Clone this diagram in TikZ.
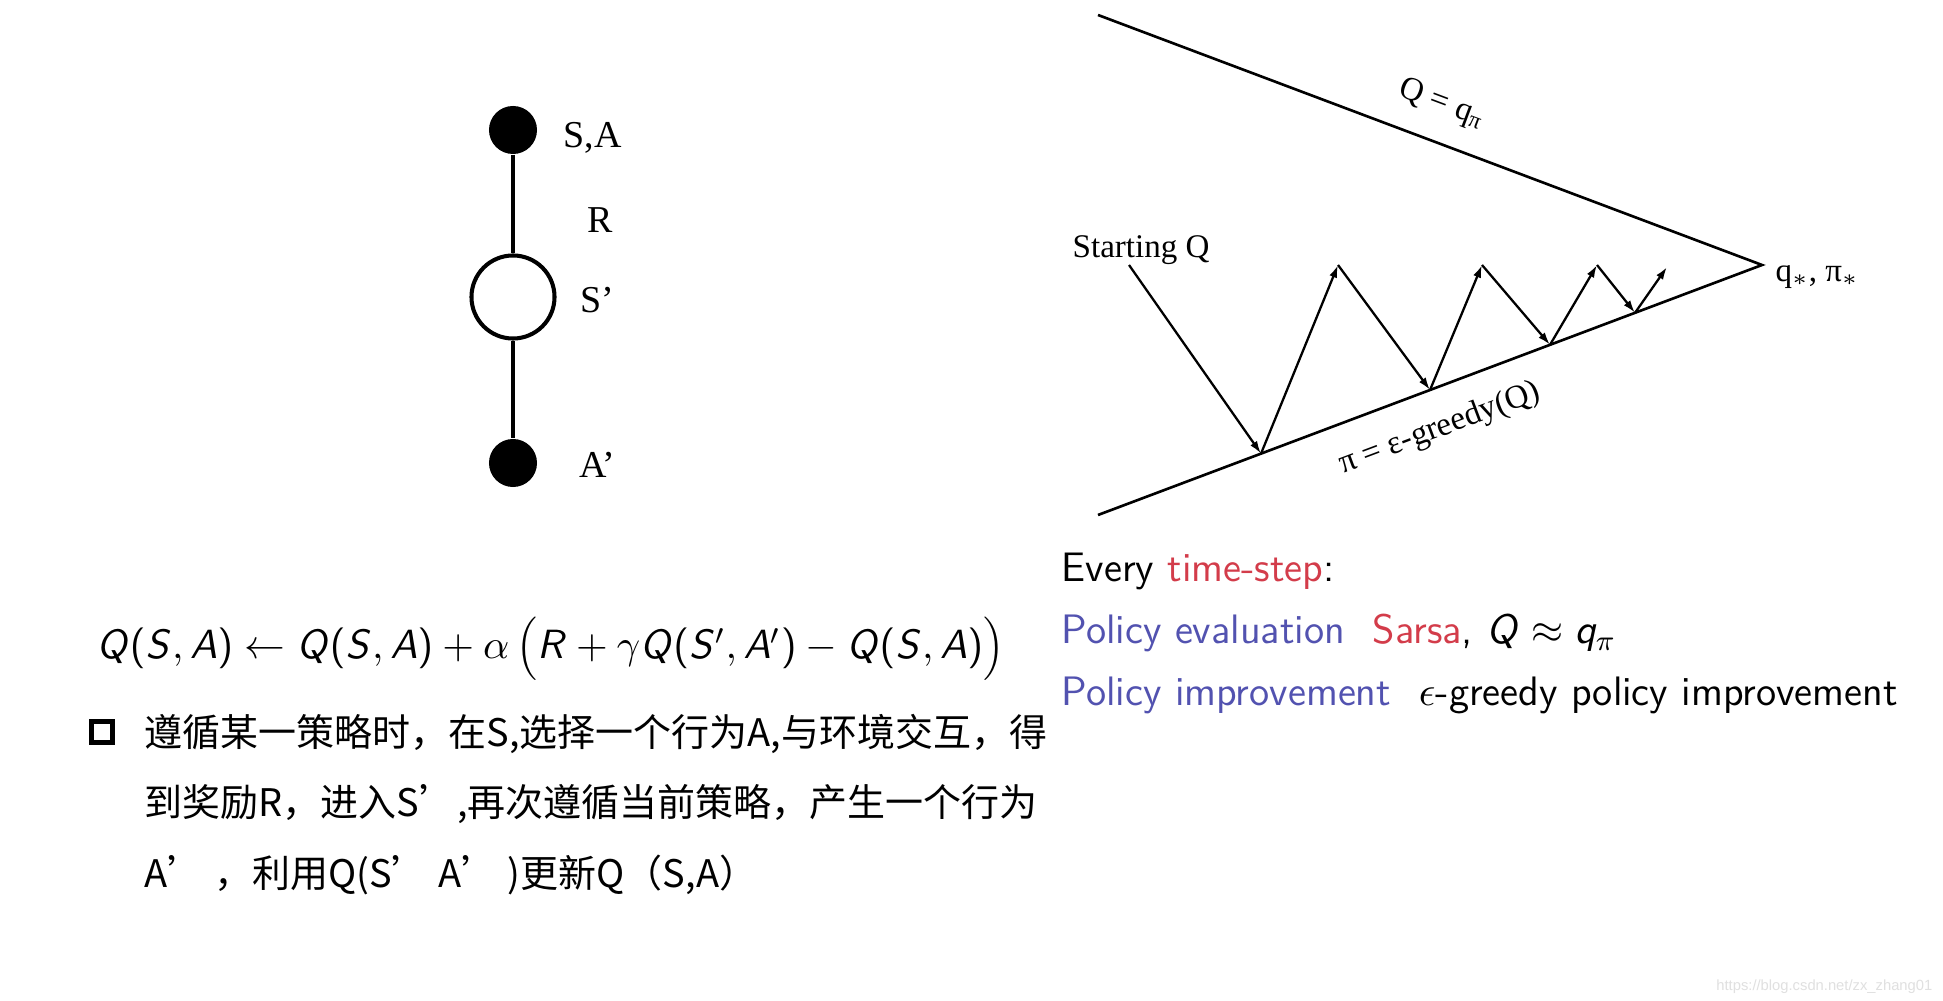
\documentclass[tikz,border=0pt]{standalone}
\usepackage{fix-cm}
\usepackage[no-math]{fontspec}
\setmainfont{Liberation Serif}
\newfontfamily\cjk{Noto Sans CJK SC}
\newfontfamily\markfont{Liberation Sans}
\usetikzlibrary{arrows.meta}
% sans serif math letters, slide style
\DeclareSymbolFont{operators}{OT1}{cmss}{m}{n}
\DeclareSymbolFont{sfletters}{OT1}{cmss}{m}{sl}
\DeclareMathSymbol{Q}{\mathalpha}{sfletters}{`Q}
\DeclareMathSymbol{S}{\mathalpha}{sfletters}{`S}
\DeclareMathSymbol{A}{\mathalpha}{sfletters}{`A}
\DeclareMathSymbol{R}{\mathalpha}{sfletters}{`R}
\DeclareMathSymbol{q}{\mathalpha}{sfletters}{`q}
\definecolor{alertred}{HTML}{D33C4A}
\definecolor{evalblue}{HTML}{5252B0}

\begin{document}
\begin{tikzpicture}[x=0.01cm, y=-0.01cm,
  act/.style={circle, fill=black, minimum size=0.48cm, inner sep=0pt},
  st/.style={circle, draw, line width=1.15pt, minimum size=0.83cm, inner sep=0pt},
  link/.style={line width=0.9pt},
  lbl/.style={font=\fontsize{10.8}{13}\selectfont, anchor=base west, inner sep=0pt},
  fig/.style={font=\fontsize{9.4}{11}\selectfont, inner sep=0pt},
  arr/.style={-{Latex[length=3.6pt, width=2.3pt]}, line width=0.65pt},
  slide/.style={font=\sffamily\fontsize{11.7}{14}\selectfont, anchor=base west, inner sep=0pt},
  cn/.style={font=\cjk\fontsize{10.8}{13}\selectfont, anchor=base west, inner sep=0pt}
]
  \path[use as bounding box, fill=white] (0,0) rectangle (1943,1001);

  % Backup diagram
  \node[act] (sa) at (513,130) {};
  \node[st] (s) at (513,297) {};
  \node[act] (a2) at (513,463) {};
  \draw[link] (sa) -- (s);
  \draw[link] (s) -- (a2);
  \node[lbl] (lsa) at (563,148) {S,A};
  \node[lbl] (lr) at (587,233) {R};
  \node[lbl] (ls) at (580,313) {S’};
  \node[lbl] (la) at (579,478) {A’};

  % Convergence wedge
  \coordinate (top) at (1098,15);
  \coordinate (apex) at (1762,265);
  \coordinate (bot) at (1098,515);
  \draw[line width=0.75pt] (top) -- (apex) -- (bot);

  \coordinate (s0) at (1129,265);
  \coordinate (b1) at (1261,453.6);
  \coordinate (t1) at (1338,265);
  \coordinate (b2) at (1430,390);
  \coordinate (t2) at (1482,265);
  \coordinate (b3) at (1550,344.8);
  \coordinate (t3) at (1597,265);
  \coordinate (b4) at (1635,312.8);
  \coordinate (t4) at (1667,267);
  \foreach \a/\b in {s0/b1, b1/t1, t1/b2, b2/t2, t2/b3, b3/t3, t3/b4, b4/t4}
    \draw[arr] (\a) -- (\b);

  \node[fig, anchor=base west] (start) at (1072,258) {Starting Q};
  \node[fig, anchor=base west] (conv) at (1775,282) {q$_*$, π$_*$};
  \node[fig, rotate=-20.6] (qpi) at (1442,104) {Q = q\textsubscript{π}};
  \node[fig, rotate=20.6] (greedy) at (1440,429) {π = ε-greedy(Q)};

  % Sarsa update
  \node[anchor=base west, inner sep=0pt, font=\fontsize{11.6}{14}\selectfont] (update)
    at (96,659)
    {$Q(S,A) \leftarrow Q(S,A) + \alpha\,\Bigl(R + \gamma Q(S',A') - Q(S,A)\Bigr)$};

  % Slide text
  \node[slide] (every) at (1061,582) {Every \textcolor{alertred}{time-step}:};
  \node[slide] (evalline) at (1061,644)
    {\textcolor{evalblue}{Policy evaluation}\hspace{0.35em} \textcolor{alertred}{Sarsa}, $Q \approx q_\pi$};
  \node[slide] (impline) at (1061,706)
    {\textcolor{evalblue}{Policy improvement}\hspace{0.35em} $\epsilon$-greedy policy improvement};

  % Note
  \node[draw, line width=1.3pt, minimum size=0.215cm, inner sep=0pt] (box) at (102,732) {};
  \node[cn] (cn1) at (144,747) {遵循某一策略时，在S,选择一个行为A,与环境交互，得};
  \node[cn] (cn2) at (144,817) {到奖励R，进入S’,再次遵循当前策略，产生一个行为};
  \node[cn] (cn3) at (144,887) {A’ ，利用Q(S’ A’ )更新Q（S,A）};

  \node[font=\markfont\fontsize{4.2}{5}\selectfont, text=black!12, anchor=base east,
    inner sep=0pt] (mark) at (1933,990) {https://blog.csdn.net/zx\_zhang01};
\end{tikzpicture}
\end{document}
